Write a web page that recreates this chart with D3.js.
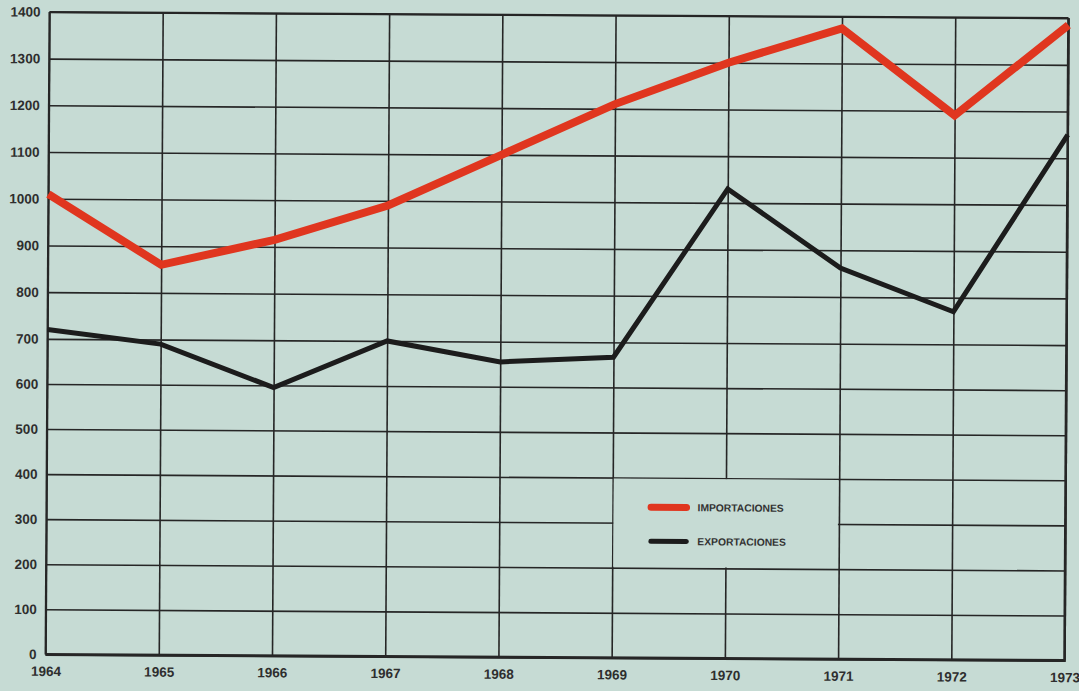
<!DOCTYPE html>
<html><head><meta charset="utf-8">
<script src="https://cdn.jsdelivr.net/npm/d3@7"></script>
<style>html,body{margin:0;padding:0;background:#c6dbd4;} svg{display:block}</style>
</head><body><svg id="chart" width="1079" height="691"></svg>
<script>
const years = [1964, 1965, 1966, 1967, 1968, 1969, 1970, 1971, 1972, 1973];
const importaciones = [1010, 860, 915, 990, 1100, 1210, 1300, 1375, 1190, 1385];
const exportaciones = [720, 690, 595, 700, 655, 667, 1030, 862, 770, 1150];
const yTicks = [0, 100, 200, 300, 400, 500, 600, 700, 800, 900, 1000, 1100, 1200, 1300, 1400];
const seriesNames = ["IMPORTACIONES", "EXPORTACIONES"];
const seriesColors = ["#e0361f", "#1c1c1c"];

const W = 1079, H = 691;
const L = 47.5, R = 1066.5, T = 15, B = 657.5, MID = 342;
const bg = "#c6dbd4";
const ink = "#262626";
const font = "'Liberation Sans', Arial, sans-serif";

const svg = d3.select("#chart");
svg.append("rect").attr("width", W).attr("height", H).attr("fill", bg);

// the printed page is slightly rotated
const g = svg.append("g").attr("transform", `rotate(0.35, ${(L+R)/2}, ${(T+B)/2})`);

const x = d3.scalePoint().domain(years).range([L, R]);
const y = d3.scaleLinear().domain([0, 700, 1400]).range([B, MID, T]);

// horizontal grid + y labels
const yAxis = g.append("g").attr("transform", `translate(${L},0)`)
  .call(d3.axisLeft(y).tickValues(yTicks).tickSize(-(R - L)).tickPadding(9).tickFormat(d3.format("d")));
yAxis.select(".domain").remove();
yAxis.selectAll(".tick line").attr("stroke", ink).attr("stroke-width", 1.6);
yAxis.selectAll(".tick text").attr("fill", "#2e2e2e").attr("font-family", font)
  .attr("font-size", 13.5).attr("font-weight", "bold");

// vertical grid + x labels
const xAxis = g.append("g").attr("transform", `translate(0,${B})`)
  .call(d3.axisBottom(x).tickSize(-(B - T)).tickPadding(12).tickFormat(d3.format("d")));
xAxis.select(".domain").remove();
xAxis.selectAll(".tick line").attr("stroke", ink).attr("stroke-width", 1.6);
xAxis.selectAll(".tick text").attr("fill", "#2e2e2e").attr("font-family", font)
  .attr("font-size", 13.5).attr("font-weight", "bold");

// frame
g.append("line").attr("x1", L).attr("x2", R).attr("y1", B).attr("y2", B).attr("stroke", ink).attr("stroke-width", 3);
g.append("line").attr("x1", R).attr("x2", R).attr("y1", T).attr("y2", B + 1.5).attr("stroke", ink).attr("stroke-width", 2.6);
g.append("line").attr("x1", L).attr("x2", R).attr("y1", T).attr("y2", T).attr("stroke", ink).attr("stroke-width", 2);
g.append("line").attr("x1", L).attr("x2", L).attr("y1", T).attr("y2", B).attr("stroke", ink).attr("stroke-width", 2);

// legend box (clears the grid inside)
const lx0 = x(1969), lx1 = x(1971), ly0 = y(400), ly1 = y(200);
g.append("rect").attr("x", lx0 + 1).attr("y", ly0 + 1).attr("width", lx1 - lx0 - 2).attr("height", ly1 - ly0 - 2).attr("fill", bg);

// lines
const line = d3.line().x((d, i) => x(years[i])).y(d => y(d));
g.append("path").datum(exportaciones).attr("d", line).attr("fill", "none")
  .attr("stroke", seriesColors[1]).attr("stroke-width", 5).attr("stroke-linejoin", "miter");
g.append("path").datum(importaciones).attr("d", line).attr("fill", "none")
  .attr("stroke", seriesColors[0]).attr("stroke-width", 8).attr("stroke-linejoin", "miter");

// legend
const leg = g.append("g");
seriesNames.forEach((name, i) => {
  const yy = ly0 + 29.5 + i * 34;
  leg.append("line").attr("x1", lx0 + 38.5).attr("x2", lx0 + 74).attr("y1", yy).attr("y2", yy)
    .attr("stroke", seriesColors[i]).attr("stroke-width", i === 0 ? 7 : 5).attr("stroke-linecap", "round");
  leg.append("text").attr("x", lx0 + 85).attr("y", yy).attr("dy", "0.36em")
    .attr("font-family", font).attr("font-size", 10.3).attr("font-weight", "bold")
    .attr("fill", "#333").text(name);
});
</script>
</body></html>
